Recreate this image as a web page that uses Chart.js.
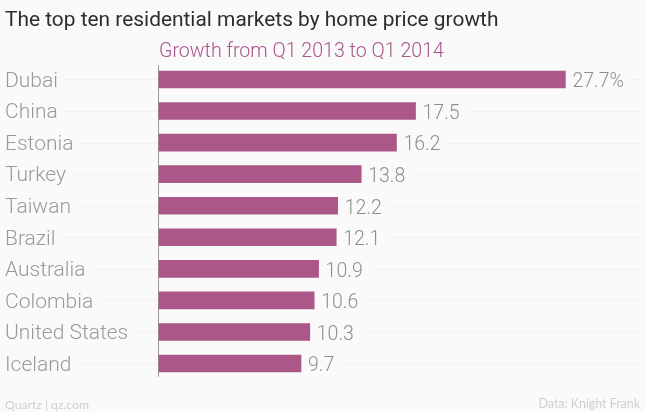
<!DOCTYPE html>
<html>
<head>
<meta charset="utf-8">
<script src="https://cdn.jsdelivr.net/npm/chart.js@4"></script>
<style>
    html, body { margin: 0; padding: 0; background: #fafafa; }
    #wrap { position: relative; width: 645px; height: 412px; overflow: hidden; }
    #wrap canvas { position: absolute; left: 0; top: 0; }
    .txt { position: absolute; white-space: nowrap; font-family: Lato, sans-serif; }
    #title { left: 5px; top: 6px; font-size: 20.9px; line-height: 26px; color: #2d2d2d; font-family: Roboto, sans-serif; }
    #subtitle { left: 159px; top: 38px; font-size: 19.6px; line-height: 26px; color: #a8568a; font-family: Roboto, sans-serif; font-weight: 300; }
    #source { left: 5px; top: 398px; font-size: 12.2px; line-height: 14px; color: #cfcfcf; }
    #credit { right: 5px; top: 397px; font-size: 12.4px; line-height: 14px; color: #cfcfcf; }
</style>
</head>
<body>
<div id="wrap">
    <canvas id="marketChart" width="645" height="412"></canvas>
    <div class="txt" id="title">The top ten residential markets by home price growth</div>
    <div class="txt" id="subtitle">Growth from Q1 2013 to Q1 2014</div>
    <div class="txt" id="source">Quartz | qz.com</div>
    <div class="txt" id="credit">Data: Knight Frank</div>
</div>
<script>
const markets = ['Dubai', 'China', 'Estonia', 'Turkey', 'Taiwan', 'Brazil', 'Australia', 'Colombia', 'United States', 'Iceland'];
const growth = [27.7, 17.5, 16.2, 13.8, 12.2, 12.1, 10.9, 10.6, 10.3, 9.7];
const valueLabels = ['27.7%', '17.5', '16.2', '13.8', '12.2', '12.1', '10.9', '10.6', '10.3', '9.7'];

const nameFont = '300 21px Roboto, sans-serif';
const valueFont = '300 19.5px Roboto, sans-serif';

// Value labels, faint row lines and the axis line
const rowDecor = {
    id: 'rowDecor',
    beforeDatasetsDraw(chart) {
        const { ctx, scales: { x, y } } = chart;
        const bars = chart.getDatasetMeta(0).data;
        ctx.save();
        ctx.strokeStyle = '#f1f1f1';
        ctx.lineWidth = 1;
        markets.forEach((name, i) => {
            const rowY = Math.round(y.getPixelForValue(i)) + 0.5;
            ctx.font = nameFont;
            const nameEnd = 5 + ctx.measureText(name).width + 8;
            ctx.font = valueFont;
            const valueEnd = bars[i].x + 7 + ctx.measureText(valueLabels[i]).width + 9;
            ctx.beginPath();
            ctx.moveTo(nameEnd, rowY);
            ctx.lineTo(x.left, rowY);
            ctx.moveTo(valueEnd, rowY);
            ctx.lineTo(x.right, rowY);
            ctx.stroke();
        });
        ctx.strokeStyle = '#9a9a9a';
        ctx.beginPath();
        ctx.moveTo(x.left, y.top + 1.5);
        ctx.lineTo(x.left, y.bottom - 2.5);
        ctx.stroke();
        ctx.restore();
    },
    afterDatasetsDraw(chart) {
        const { ctx } = chart;
        ctx.save();
        ctx.font = valueFont;
        ctx.fillStyle = '#8f8f8f';
        ctx.textBaseline = 'middle';
        chart.getDatasetMeta(0).data.forEach((bar, i) => {
            ctx.fillText(valueLabels[i], bar.x + 7, bar.y + 3);
        });
        ctx.restore();
    }
};

new Chart(document.getElementById('marketChart'), {
    type: 'bar',
    data: {
        labels: markets,
        datasets: [{
            data: growth,
            backgroundColor: '#ab5787',
            barThickness: 17
        }]
    },
    options: {
        indexAxis: 'y',
        responsive: false,
        animation: false,
        layout: {
            padding: { top: 63.7, bottom: 32.7, left: 5, right: 5 }
        },
        plugins: {
            legend: { display: false },
            tooltip: { enabled: false }
        },
        scales: {
            x: {
                display: false,
                min: 0,
                max: 32.78
            },
            y: {
                afterFit(scale) { scale.width = 153.5; },
                grid: { display: false },
                border: { display: false },
                ticks: {
                    crossAlign: 'far',
                    labelOffset: 2,
                    color: '#9a9a9a',
                    font: { family: 'Roboto, sans-serif', size: 21, weight: '300' }
                }
            }
        }
    },
    plugins: [rowDecor]
});
</script>
</body>
</html>
